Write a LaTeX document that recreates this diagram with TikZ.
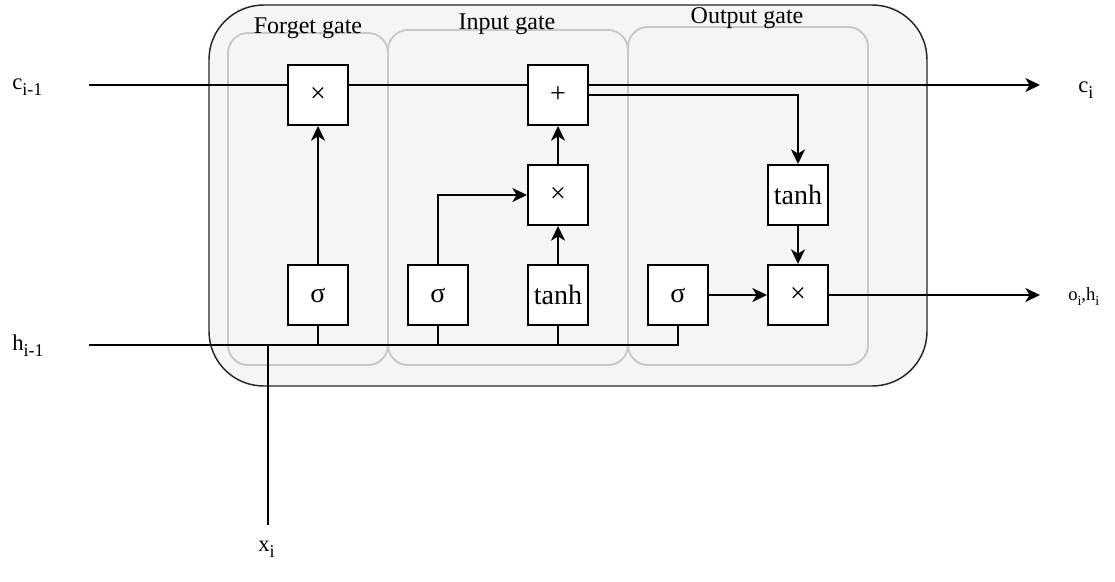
\documentclass[tikz,border=0pt]{standalone}
\usepackage{fontspec}
\setmainfont{Liberation Serif}
\usetikzlibrary{arrows.meta}
\definecolor{cellbg}{HTML}{F5F5F5}
\definecolor{gateline}{HTML}{C8C8C8}
% lowered, smaller subscripts for the signal labels
\newcommand\lsub[1]{\raisebox{-5pt}{\fontsize{13.5pt}{14pt}\selectfont #1}}
\newcommand\ssub[1]{\raisebox{-4pt}{\fontsize{10.5pt}{12pt}\selectfont #1}}
\tikzset{
  cellbox/.style={draw=black!85, fill=cellbg, line width=1.1pt, rounded corners=41pt},
  gatebox/.style={draw=gateline, line width=1.4pt, rounded corners=15pt},
  gatelabel/.style={font=\fontsize{18pt}{21pt}\selectfont, inner sep=0pt, anchor=base},
  iolabel/.style={font=\fontsize{17pt}{20pt}\selectfont, inner sep=0pt, anchor=base west},
  opbox/.style={draw, fill=white, line width=1.5pt, minimum width=45pt, minimum height=45pt,
    inner sep=0pt, font=\fontsize{21pt}{24pt}\selectfont},
  wire/.style={line width=1.5pt},
  flow/.style={wire, -{Stealth[length=11pt,width=10.5pt,inset=3.2pt]}}
}
\begin{document}
\begin{tikzpicture}[x=0.75pt, y=-0.75pt]
\useasboundingbox (0,0) rectangle (1115,582);

% LSTM cell and its three gate groups
\draw[cellbox] (209,5) rectangle (927,386);
\draw[gatebox] (228,33) rectangle (388,365);
\draw[gatebox] (388,30) rectangle (628,365);
\draw[gatebox] (628,27) rectangle (868,365);
\node[gatelabel] (lforget) at (308,33) {Forget gate};
\node[gatelabel] (linput) at (507,29) {Input gate};
\node[gatelabel] (loutput) at (747,23) {Output gate};

% end points of the external signals
\coordinate (cin) at (89,85);
\coordinate (cout) at (1040,85);
\coordinate (hin) at (89,345);
\coordinate (hout) at (1040,295);
\coordinate (xin) at (268,525);
\coordinate (xj) at (268,345);

% cell state line
\draw[flow] (cin) -- (cout);

% operation boxes
\node[opbox] (fx) at (318,95) {×};
\node[opbox] (ip) at (558,95) {+};
\node[opbox] (ix) at (558,195) {×};
\node[opbox] (ot) at (798,195) {tanh};
\node[opbox] (fs) at (318,295) {σ};
\node[opbox] (is) at (438,295) {σ};
\node[opbox] (it) at (558,295) {tanh};
\node[opbox] (os) at (678,295) {σ};
\node[opbox] (ox) at (798,295) {×};

% hidden state / input bus
\draw[wire] (hin) -| (os.south);
\draw[wire] (xin) -- (xj);
\draw[wire] (fs.south) -- (fs.south |- hin);
\draw[wire] (is.south) -- (is.south |- hin);
\draw[wire] (it.south) -- (it.south |- hin);

% internal connections
\draw[flow] (fs.north) -- (fx.south);
\draw[flow] (is.north) |- (ix.west);
\draw[flow] (it.north) -- (ix.south);
\draw[flow] (ix.north) -- (ip.south);
\draw[flow] (ip.east) -| (ot.north);
\draw[flow] (ot.south) -- (ox.north);
\draw[flow] (os.east) -- (ox.west);
\draw[flow] (ox.east) -- (hout);

% signal labels
\node[iolabel] (lcin) at (12,89) {c\lsub{i-1}};
\node[iolabel] (lhin) at (12,350) {h\lsub{i-1}};
\node[iolabel] (lcout) at (1078,92) {c\lsub{i}};
\node[iolabel, font=\fontsize{14pt}{16pt}\selectfont] (lhout) at (1068,300) {o\ssub{i},h\ssub{i}};
\node[iolabel] (lxin) at (258,551) {x\lsub{i}};
\end{tikzpicture}
\end{document}
